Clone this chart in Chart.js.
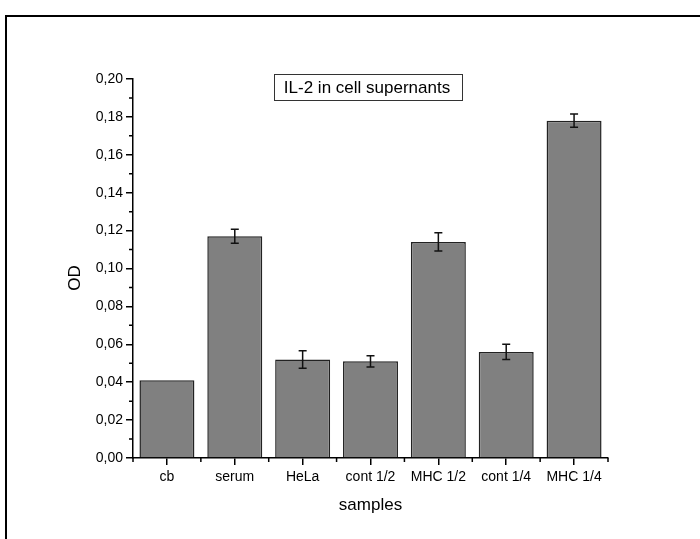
<!DOCTYPE html>
<html>
<head>
<meta charset="utf-8">
<script src="https://cdn.jsdelivr.net/npm/chart.js@4"></script>
<style>
html,body{margin:0;padding:0;background:#fff}
#wrap{width:700px;height:539px;position:relative}
</style>
</head>
<body>
<div id="wrap"><canvas id="c"></canvas></div>
<script>
const samples = ['cb','serum','HeLa','cont 1/2','MHC 1/2','cont 1/4','MHC 1/4']
const odMean = [0.041, 0.117, 0.052, 0.051, 0.114, 0.056, 0.178]
const odErr  = [0, 0.0037, 0.0046, 0.003, 0.0048, 0.004, 0.0035]
const yTicks = [0,0.02,0.04,0.06,0.08,0.10,0.12,0.14,0.16,0.18,0.20]

const FONT = '"Liberation Sans", Arial, sans-serif'

// error bars, minor ticks, title box, axis titles, outer frame
const extras = {
  id:'extras',
  afterDatasetsDraw(chart){
    const ctx = chart.ctx, x = chart.scales.x, y = chart.scales.y
    ctx.save()
    ctx.strokeStyle = '#111'
    ctx.lineWidth = 1.5
    odMean.forEach((v,i)=>{
      const e = odErr[i]
      if(!e) return
      const px = x.getPixelForValue(i)
      const t = y.getPixelForValue(v+e), b = y.getPixelForValue(v-e)
      ctx.beginPath()
      ctx.moveTo(px,t); ctx.lineTo(px,b)
      ctx.moveTo(px-4,t); ctx.lineTo(px+4,t)
      ctx.moveTo(px-4,b); ctx.lineTo(px+4,b)
      ctx.stroke()
    })
    ctx.restore()
  },
  afterDraw(chart){
    const ctx = chart.ctx, x = chart.scales.x, y = chart.scales.y
    const a = chart.chartArea
    ctx.save()
    ctx.strokeStyle = '#000'
    ctx.lineWidth = 1.5
    ctx.beginPath()
    // y minor ticks
    for(let k=0;k<yTicks.length-1;k++){
      const py = y.getPixelForValue((yTicks[k]+yTicks[k+1])/2)
      ctx.moveTo(a.left,py); ctx.lineTo(a.left-4,py)
    }
    // x minor ticks at category boundaries
    for(let i=0;i<=samples.length;i++){
      const px = x.getPixelForValue(i-0.5)
      ctx.moveTo(px,a.bottom); ctx.lineTo(px,a.bottom+4)
    }
    ctx.stroke()

    // outer frame
    ctx.lineWidth = 2
    ctx.beginPath()
    ctx.moveTo(6,539); ctx.lineTo(6,16); ctx.lineTo(700,16)
    ctx.stroke()

    // title box
    ctx.lineWidth = 1
    ctx.strokeStyle = '#333'
    ctx.strokeRect(274.5,74.5,188,26)
    ctx.fillStyle = '#000'
    ctx.font = '17px '+FONT
    ctx.textAlign = 'center'
    ctx.textBaseline = 'middle'
    ctx.fillText('IL-2 in cell supernants',367,88)

    // axis titles
    ctx.font = '17px '+FONT
    ctx.fillText('samples',(a.left+a.right)/2,505)
    ctx.translate(75,278)
    ctx.rotate(-Math.PI/2)
    ctx.fillText('OD',0,0)
    ctx.restore()
  }
}

new Chart(document.getElementById('c'),{
  type:'bar',
  data:{
    labels:samples,
    datasets:[{
      data:odMean,
      backgroundColor:'#808080',
      borderColor:'#222',
      borderWidth:1.5,
      borderSkipped:'start',
      barPercentage:0.81,
      categoryPercentage:1
    }]
  },
  options:{
    responsive:true,
    maintainAspectRatio:false,
    animation:false,
    layout:{padding:{top:79,right:92,left:0,bottom:0}},
    plugins:{legend:{display:false},tooltip:{enabled:false}},
    scales:{
      x:{
        offset:true,
        grid:{display:true,drawOnChartArea:false,offset:false,tickLength:7,color:'#000',lineWidth:1.5},
        border:{display:true,color:'#000',width:1.5},
        ticks:{color:'#000',font:{family:FONT,size:14},padding:4,maxRotation:0},
        afterFit(s){s.height = 81}
      },
      y:{
        min:0,max:0.2,
        grid:{display:true,drawOnChartArea:false,tickLength:7,color:'#000',lineWidth:1.5},
        border:{display:true,color:'#000',width:1.5},
        ticks:{
          stepSize:0.02,color:'#000',font:{family:FONT,size:14},padding:3,
          callback:v=>v.toFixed(2).replace('.',',')
        },
        afterFit(s){s.width = 133}
      }
    }
  },
  plugins:[extras]
})
</script>
</body>
</html>
